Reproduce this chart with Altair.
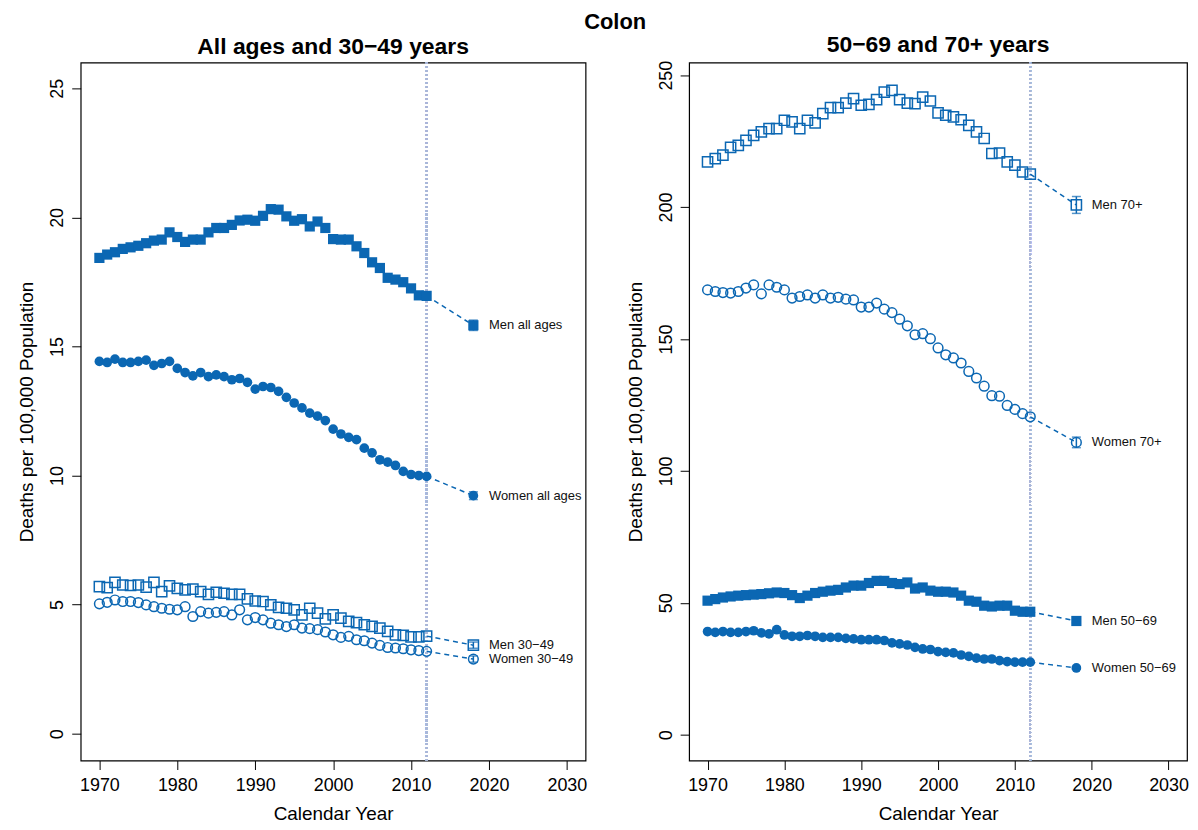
import altair as alt
import pandas as pd

# ---------------- data ----------------
years = list(range(1970, 2013))
proj_year = 2018

men_all = [18.43, 18.56, 18.65, 18.78, 18.84, 18.90, 19.00, 19.10, 19.14, 19.42,
           19.24, 19.05, 19.14, 19.14, 19.42, 19.59, 19.59, 19.71, 19.88, 19.91,
           19.87, 20.06, 20.32, 20.30, 20.04, 19.87, 19.93, 19.65, 19.84, 19.59,
           19.16, 19.14, 19.14, 18.88, 18.62, 18.26, 18.04, 17.66, 17.59, 17.49,
           17.25, 16.98, 16.96]
women_all = [14.42, 14.38, 14.51, 14.38, 14.38, 14.42, 14.47, 14.27, 14.34, 14.42,
             14.15, 13.99, 13.86, 13.99, 13.83, 13.90, 13.83, 13.71, 13.76, 13.61,
             13.35, 13.45, 13.41, 13.26, 13.03, 12.81, 12.62, 12.42, 12.30, 12.13,
             11.80, 11.61, 11.48, 11.39, 11.06, 10.88, 10.61, 10.52, 10.39, 10.16,
             10.04, 10.00, 9.97]
men_3049 = [5.70, 5.66, 5.86, 5.76, 5.74, 5.76, 5.68, 5.86, 5.50, 5.73,
            5.63, 5.57, 5.60, 5.50, 5.40, 5.48, 5.44, 5.40, 5.40, 5.22,
            5.14, 5.12, 4.99, 4.89, 4.86, 4.80, 4.60, 4.86, 4.67, 4.45,
            4.60, 4.48, 4.35, 4.30, 4.22, 4.16, 4.09, 3.96, 3.83, 3.81,
            3.75, 3.75, 3.78]
women_3049 = [5.03, 5.09, 5.18, 5.12, 5.12, 5.08, 4.99, 4.92, 4.86, 4.82,
              4.80, 4.92, 4.54, 4.73, 4.67, 4.70, 4.73, 4.60, 4.80, 4.41,
              4.50, 4.41, 4.28, 4.22, 4.15, 4.22, 4.09, 4.07, 4.03, 3.94,
              3.83, 3.73, 3.77, 3.64, 3.60, 3.51, 3.42, 3.34, 3.32, 3.29,
              3.25, 3.22, 3.19]
men_70 = [217.1, 218.4, 219.7, 222.6, 223.4, 225.3, 227.2, 228.5, 229.7, 229.7,
          232.9, 232.3, 229.7, 232.9, 231.9, 235.4, 237.7, 237.7, 239.4, 241.1,
          238.6, 238.9, 240.7, 243.6, 244.2, 240.7, 239.4, 239.2, 241.7, 240.2,
          235.7, 234.8, 234.2, 233.1, 231.0, 228.5, 226.0, 220.3, 220.5, 217.1,
          215.9, 213.3, 212.5]
women_70 = [168.6, 168.0, 167.6, 167.4, 168.0, 169.3, 170.5, 167.1, 170.5, 169.6,
            168.6, 165.5, 166.1, 166.7, 165.5, 166.7, 165.5, 165.8, 165.1, 164.8,
            162.1, 162.1, 163.6, 161.3, 160.0, 157.5, 155.0, 151.6, 152.0, 150.1,
            146.6, 144.0, 142.8, 140.9, 137.7, 135.2, 132.1, 128.5, 128.3, 124.8,
            123.3, 121.7, 120.5]
men_5069 = [50.8, 51.4, 52.0, 52.4, 52.7, 52.9, 53.1, 53.3, 53.6, 53.9,
            53.7, 52.9, 51.8, 52.7, 53.7, 54.2, 54.6, 54.9, 55.8, 56.5,
            56.5, 57.5, 58.3, 58.3, 57.5, 57.1, 57.7, 55.4, 55.8, 54.6,
            54.2, 54.2, 53.9, 52.7, 50.8, 50.4, 48.9, 48.6, 48.9, 48.9,
            47.0, 46.6, 46.6]
women_5069 = [39.1, 38.8, 39.1, 38.8, 38.8, 39.1, 39.4, 38.6, 38.2, 39.8,
              37.8, 37.3, 37.3, 37.6, 37.3, 36.9, 36.9, 36.9, 36.5, 36.3,
              36.0, 36.0, 36.0, 35.7, 34.8, 34.4, 34.0, 33.1, 32.5, 32.3,
              31.5, 31.2, 31.0, 30.2, 29.7, 29.0, 28.7, 28.7, 28.1, 27.7,
              27.5, 27.5, 27.5]

# 2018 projections and half-width of their intervals
left_labels = ["Men all ages", "Women all ages", "Men 30\u221249", "Women 30\u221249"]
left_proj = [15.82, 9.22, 3.43, 2.89]
left_err = [0.20, 0.15, 0.12, 0.12]
right_labels = ["Men 70+", "Women 70+", "Men 50\u221269", "Women 50\u221269"]
right_proj = [200.8, 110.8, 43.1, 25.3]
right_err = [3.2, 2.0, 0.6, 0.5]

x_ticks = [1970, 1980, 1990, 2000, 2010, 2020, 2030]
left_y_ticks = [0, 5, 10, 15, 20, 25]
right_y_ticks = [0, 50, 100, 150, 200, 250]

BLUE = "#0b67b3"
FONT = "Liberation Sans"


def panel(values_list, labels, proj, err, shapes, filled, ydom, yticks, title, w, h):
    hist, pr, conn = [], [], []
    for vals, lab, p, e, sh, fi in zip(values_list, labels, proj, err, shapes, filled):
        key = sh + ("_f" if fi else "_o")
        for yr, v in zip(years, vals):
            hist.append(dict(series=lab, year=yr, value=v, kind=key))
        hist.append(dict(series=lab, year=proj_year, value=p, kind=key))
        pr.append(dict(series=lab, year=proj_year, value=p, lo=p - e, hi=p + e,
                       lx=proj_year + 2.0, label=lab))
        conn.append(dict(series=lab, year=2012, value=vals[-1]))
        conn.append(dict(series=lab, year=proj_year, value=p))
    hist = pd.DataFrame(hist)
    pr = pd.DataFrame(pr)
    conn = pd.DataFrame(conn)

    xs = alt.Scale(domain=[1967.6, 2032.4], nice=False, zero=False)
    ys = alt.Scale(domain=ydom, nice=False, zero=False)
    xaxis = alt.Axis(values=x_ticks, format="d", grid=False, domain=False,
                     tickSize=9, tickColor="black", tickWidth=1,
                     labelFontSize=18, labelFont=FONT, labelColor="black",
                     labelPadding=7, labelFlush=False,
                     title="Calendar Year", titleFontSize=19, titleFont=FONT,
                     titleFontWeight="normal", titleColor="black", titlePadding=10)
    yaxis = alt.Axis(values=yticks, format="d", grid=False, domain=False,
                     tickSize=9, tickColor="black", tickWidth=1,
                     labelFontSize=18, labelFont=FONT, labelColor="black",
                     labelAngle=270, labelAlign="center", labelBaseline="bottom",
                     labelPadding=5, labelFlush=False,
                     title="Deaths per 100,000 Population", titleFontSize=19,
                     titleFont=FONT, titleFontWeight="normal", titleColor="black",
                     titlePadding=12)

    X = alt.X("year:Q", scale=xs, axis=xaxis)
    Y = alt.Y("value:Q", scale=ys, axis=yaxis)

    vline = alt.Chart(hist).mark_rule(color="#aab6d8", strokeDash=[1.5, 2.5],
                                      strokeWidth=1.6).encode(x=alt.datum(2012))
    conn_line = alt.Chart(conn).mark_line(color=BLUE, strokeDash=[5, 4],
                                          strokeWidth=1.5).encode(
        x=alt.X("year:Q", scale=xs, axis=xaxis),
        y=alt.Y("value:Q", scale=ys, axis=yaxis),
        detail="series:N")
    layers = [vline, conn_line]
    for key in sorted(set(hist["kind"])):
        sh, f = key.split("_")
        size = 105 if sh == "square" else 95
        m = alt.Chart(hist).transform_filter(alt.datum.kind == key).mark_point(
            shape=sh, filled=(f == "f"), size=size, color=BLUE, opacity=1,
            strokeWidth=1.5).encode(x=X, y=Y)
        layers.append(m)
    err_rule = alt.Chart(pr).mark_rule(color=BLUE, strokeWidth=1.5).encode(
        x="year:Q", y="lo:Q", y2="hi:Q")
    cap_lo = alt.Chart(pr).mark_tick(color=BLUE, orient="horizontal", size=9,
                                     thickness=1.5).encode(x="year:Q", y="lo:Q")
    cap_hi = alt.Chart(pr).mark_tick(color=BLUE, orient="horizontal", size=9,
                                     thickness=1.5).encode(x="year:Q", y="hi:Q")
    txt = alt.Chart(pr).mark_text(align="left", baseline="middle", fontSize=13,
                                  font=FONT, color="#111111").encode(
        x="lx:Q", y="value:Q", text="label:N")
    layers += [err_rule, cap_lo, cap_hi, txt]
    return alt.layer(*layers).properties(
        width=w, height=h,
        title=alt.TitleParams(title, fontSize=23, fontWeight="bold", font=FONT,
                              anchor="middle", offset=3, color="black"))


left = panel([men_all, women_all, men_3049, women_3049], left_labels, left_proj,
             left_err, ["square", "circle", "square", "circle"],
             [True, True, False, False], [-1.04, 26.0], left_y_ticks,
             "All ages and 30\u221249 years", 507, 701)
right = panel([men_70, women_70, men_5069, women_5069], right_labels, right_proj,
              right_err, ["square", "circle", "square", "circle"],
              [False, False, True, True], [-9.8, 254.8], right_y_ticks,
              "50\u221269 and 70+ years", 500, 701)

chart = alt.hconcat(left, right, spacing=38).resolve_scale(
    x="independent", y="independent").properties(
    title=alt.TitleParams("Colon", fontSize=22, fontWeight="bold", font=FONT,
                          anchor="middle", offset=0, color="black", dx=12),
    padding={"left": 9, "top": 1, "right": 0, "bottom": 0},
).configure_view(stroke="black", strokeWidth=1.2)

chart.save("out.html", embed_options={"renderer": "svg", "actions": False})
